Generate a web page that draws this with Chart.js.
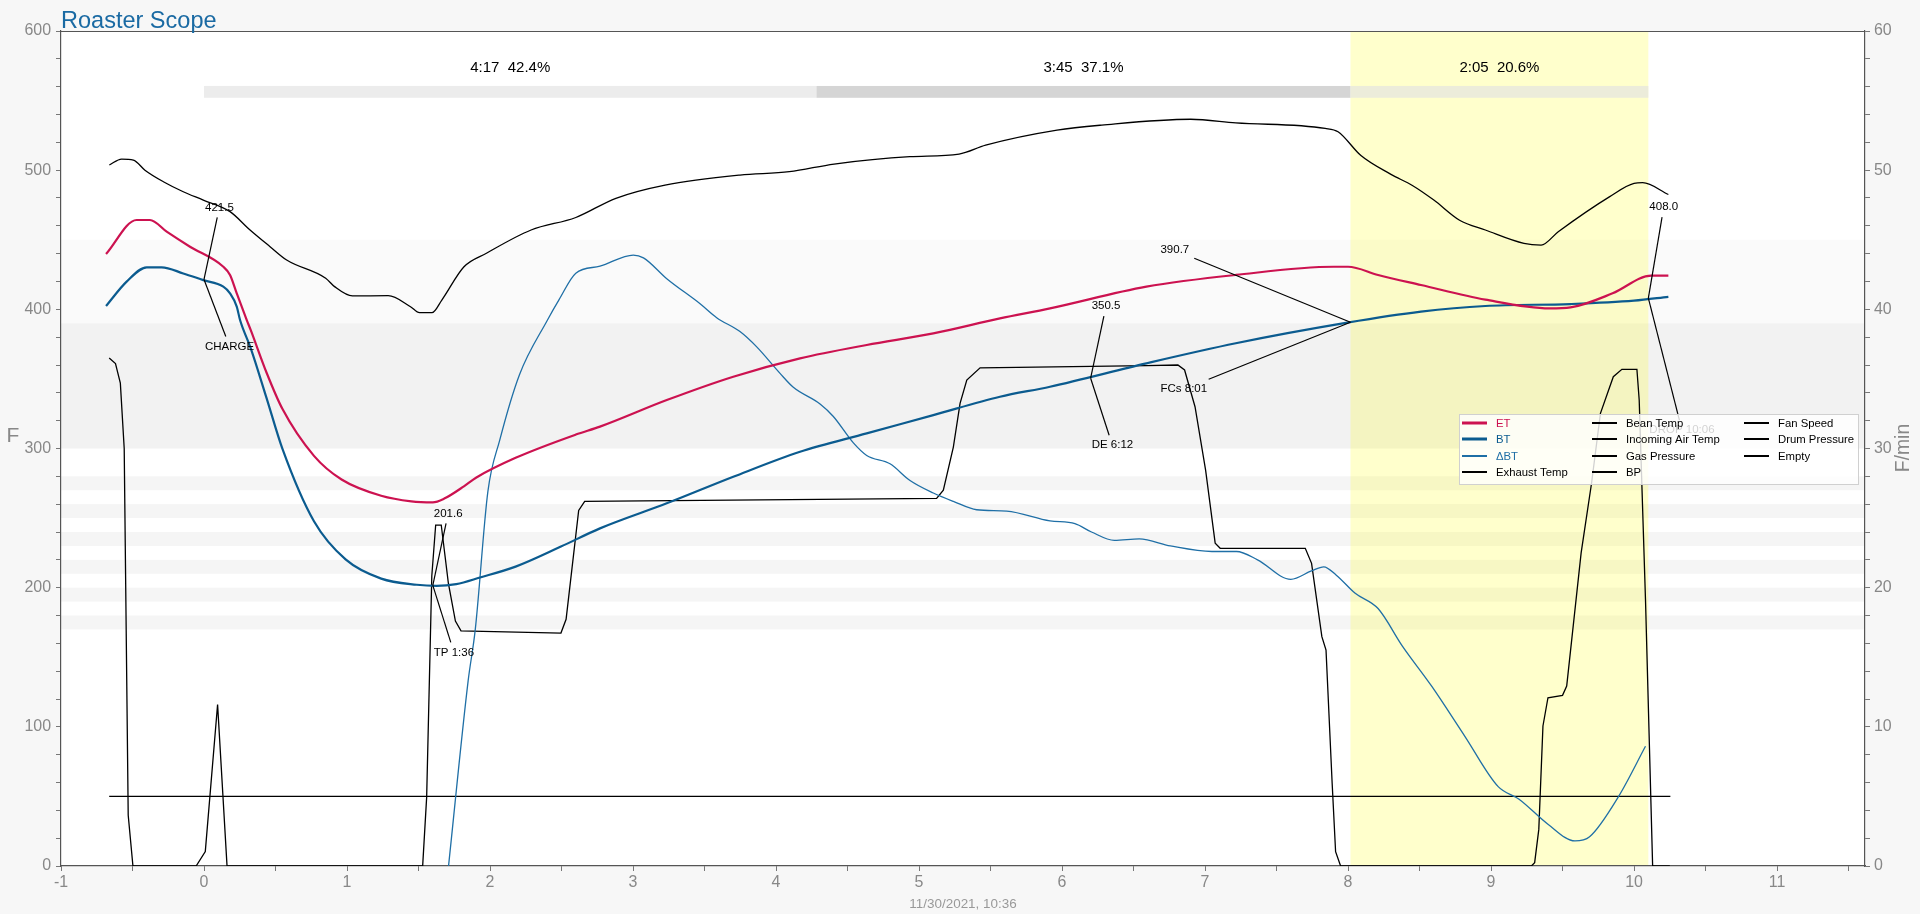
<!DOCTYPE html>
<html>
<head>
<meta charset="utf-8">
<title>Roaster Scope</title>
<script src="https://cdn.jsdelivr.net/npm/chart.js@4.4.0/dist/chart.umd.min.js"></script>
<style>
  html, body { margin: 0; padding: 0; background: #f7f7f7; overflow: hidden; }
  canvas { display: block; }
</style>
</head>
<body>
<canvas id="roast" width="1920" height="914"></canvas>
<script>
/* Roaster Scope profile */

// time (min) / value pairs
const etPts = [
  [-0.685, 439.7], [-0.471, 464.2], [-0.378, 464.2], [-0.261, 455.8], [-0.098, 445],
  [0.135, 430.6], [0.182, 424.7], [0.229, 411.5], [0.299, 392.3], [0.327, 385], [0.437, 354.6],
  [0.548, 328.5], [0.769, 294.7], [0.962, 277.7], [1.239, 266], [1.45, 262], [1.6, 261.3],
  [1.68, 264], [1.82, 273], [1.902, 279], [2.179, 293.3], [2.6, 310], [2.769, 315.7],
  [3.236, 334.8], [3.701, 351.6], [4.168, 364.8], [4.634, 374.4], [5.1, 382.7], [5.566, 393.5],
  [5.916, 400.7], [6.59, 416.3], [7.215, 424.7], [7.9, 430.6], [8.0, 430.6], [8.21, 424.7],
  [8.51, 417.5], [8.96, 407], [9.41, 400.7], [9.556, 401.4], [9.85, 411.5], [10.12, 424.2],
  [10.24, 424.2]
];
const btPts = [
  [-0.685, 402.4], [-0.541, 419.9], [-0.401, 430.2], [-0.296, 430.2], [-0.145, 425.8],
  [-0.005, 421], [0.135, 416.3], [0.182, 411.5], [0.229, 402], [0.252, 392.3], [0.327, 372],
  [0.437, 336.4], [0.548, 299.9], [0.769, 247.7], [0.99, 220.3], [1.239, 206.5], [1.488, 202.1],
  [1.626, 201.3], [1.764, 202.6], [1.93, 207.3], [2.179, 215.1], [2.496, 229.5], [2.769, 242.6],
  [3.236, 260.6], [3.701, 279.7], [4.168, 297.7], [4.634, 310.9], [5.1, 324], [5.566, 337.2],
  [5.916, 344.4], [6.59, 361.2], [7.215, 375.6], [7.995, 390.4], [8.51, 398.3], [8.96, 402.4],
  [9.556, 403.8], [10.0, 406.2], [10.24, 409]
];
// rate of rise, F/min (right axis)
const dbtPts = [
  [1.71, 0], [1.847, 13.3], [1.897, 17], [1.985, 26.9], [2.068, 30.6], [2.206, 35.3],
  [2.4, 39.2], [2.483, 40.7], [2.6, 42.6], [2.769, 43.1], [3.002, 43.9], [3.073, 43.7],
  [3.236, 42.2], [3.469, 40.4], [3.585, 39.4], [3.748, 38.4], [3.865, 37.3], [4.028, 35.4],
  [4.121, 34.4], [4.308, 33.2], [4.401, 32.3], [4.541, 30.4], [4.634, 29.5], [4.797, 28.9],
  [4.937, 27.7], [5.1, 26.8], [5.24, 26.2], [5.403, 25.6], [5.613, 25.5], [5.916, 24.8],
  [6.09, 24.6], [6.206, 24.0], [6.366, 23.4], [6.54, 23.5], [6.758, 23.0], [7.048, 22.6],
  [7.22, 22.6], [7.367, 22.0], [7.6, 20.6], [7.744, 21.2], [7.83, 21.5], [7.918, 20.9],
  [8.05, 19.6], [8.21, 18.5], [8.38, 15.8], [8.586, 12.9], [8.818, 9.3], [9.05, 5.7],
  [9.196, 4.8], [9.398, 3.0], [9.587, 1.8], [9.689, 2.1], [9.892, 5.0], [10.08, 8.6]
];
const exhaustPts = [
  [-0.662, 503.7], [-0.576, 508], [-0.494, 507.3], [-0.413, 500], [-0.284, 491.7],
  [-0.145, 484.5], [-0.005, 478.5], [0.182, 470.2], [0.322, 457], [0.462, 445], [0.578, 435.4],
  [0.851, 422.3], [0.913, 416.3], [1.038, 409.6], [1.288, 409.8], [1.444, 401.9], [1.507, 397.6],
  [1.594, 397.6], [1.663, 406.7], [1.818, 430.6], [1.975, 440.3], [2.287, 457], [2.6, 466],
  [2.88, 479.8], [3.224, 489.3], [3.748, 496.5], [4.093, 498.9], [4.406, 504.4], [4.936, 509.7],
  [5.28, 511.6], [5.466, 518], [5.965, 528.8], [6.278, 532.4], [6.9, 536.6], [7.215, 534],
  [7.84, 530], [7.93, 527.6], [8.09, 510.5], [8.3, 497], [8.45, 489], [8.6, 478.5], [8.78, 464],
  [8.96, 457], [9.23, 447.4], [9.35, 446.2], [9.47, 455.8], [9.83, 481], [10.0, 490.5],
  [10.06, 491], [10.24, 482.5]
];
const fanPts = [
  [-0.663, 365], [-0.619, 361], [-0.585, 347], [-0.558, 300], [-0.53, 36.5], [-0.497, 0],
  [-0.055, 0], [0.009, 10.4], [0.095, 116], [0.161, 0], [1.529, 0], [1.557, 49.5],
  [1.593, 208.6], [1.62, 245], [1.659, 245], [1.709, 203], [1.758, 176], [1.797, 169],
  [2.496, 167.4], [2.532, 177.3], [2.62, 255.5], [2.662, 262], [5.123, 264.2], [5.17, 270],
  [5.24, 301], [5.287, 332.4], [5.334, 349.2], [5.427, 358], [6.59, 359.5], [6.81, 360],
  [6.857, 356.4], [6.93, 330], [7.004, 284.5], [7.059, 241.4], [7.071, 231.9], [7.106, 228.3],
  [7.701, 228.3], [7.745, 217.5], [7.817, 164.8], [7.846, 155.2], [7.889, 59.3], [7.913, 10.3],
  [7.948, 0], [9.282, 0], [9.305, 2.4], [9.334, 26.3], [9.363, 100.6], [9.398, 120.9],
  [9.5, 122.6], [9.529, 129.3], [9.63, 225], [9.703, 275.2], [9.765, 325.3], [9.855, 351.6],
  [9.915, 356.9], [10.02, 356.9], [10.036, 334.8], [10.08, 191.6], [10.13, 0], [10.25, 0]
];
const drumPts = [[-0.663, 50], [10.254, 50]];

// roast events
const eventNames = ['CHARGE', 'TP 1:36', 'DE 6:12', 'FCs 8:01', 'DROP 10:06'];
const eventTimes = [0, 1.6, 6.2, 8.017, 10.1];
const eventTemps = [421.5, 201.6, 350.5, 390.7, 408.0];

// phases
const phaseBounds = [0, 4.283, 8.017, 10.1];
const phaseLabels = ['4:17  42.4%', '3:45  37.1%', '2:05  20.6%'];

// background bands (F)
const bandRanges = [[390, 450], [300, 390], [270, 280], [250, 260], [230, 240], [210, 220], [190, 200], [170, 180]];

const legendCols = [
  ['ET', 'BT', '\u0394BT', 'Exhaust Temp'],
  ['Bean Temp', 'Incoming Air Temp', 'Gas Pressure', 'BP'],
  ['Fan Speed', 'Drum Pressure', 'Empty']
];

// ---- looks ----
const ET_COL = '#cc1250';
const BT_COL = '#0b5b8f';
const DBT_COL = '#1f6fa6';
const bandColors = ['#fafafa', '#f2f2f2', '#f5f5f5', '#f5f5f5', '#f5f5f5', '#f5f5f5', '#f5f5f5', '#f5f5f5'];
const phaseColors = ['rgba(226,226,226,0.65)', '#d5d5d5', 'rgba(226,226,226,0.65)'];
const noteShiftX = [1, 1, 1, -190, 1];
const noteValDy = [-72, -72, -72, -72, -91];
const noteLblDy = [67, 67, 67, 67, 132];

function fontAvailable(name) {
  const c = document.createElement('canvas').getContext('2d');
  c.font = '40px monospace';
  const a = c.measureText('Roaster Scope 0123').width;
  c.font = '40px "' + name + '", monospace';
  const b = c.measureText('Roaster Scope 0123').width;
  return a !== b;
}
const hasNarrow = fontAvailable('Liberation Sans Narrow');
const NARROW = hasNarrow ? '"Liberation Sans Narrow", "Liberation Sans", sans-serif' : '"Liberation Sans", sans-serif';
const NS = hasNarrow ? 1 : 0.84;
const REG = '"Liberation Sans", Arial, sans-serif';

const toXY = (pts) => pts.map(p => ({ x: p[0], y: p[1] }));
const line = (label, pts, color, width, extra) => Object.assign({
  label, data: toXY(pts), borderColor: color, backgroundColor: color,
  borderWidth: width, pointRadius: 0, fill: false, yAxisID: 'y',
  tension: 0.4, cubicInterpolationMode: 'monotone'
}, extra || {});

const datasets = [
  line('ET', etPts, ET_COL, 2.2),
  line('BT', btPts, BT_COL, 2.2),
  line('\u0394BT', dbtPts, DBT_COL, 1.3, { yAxisID: 'y2' }),
  line('Exhaust Temp', exhaustPts, '#000', 1.3),
  line('Bean Temp', [], '#000', 1.3),
  line('Incoming Air Temp', [], '#000', 1.3),
  line('Gas Pressure', [], '#000', 1.3),
  line('BP', [], '#000', 1.3),
  line('Fan Speed', fanPts, '#000', 1.3, { tension: 0, cubicInterpolationMode: 'default' }),
  line('Drum Pressure', drumPts, '#000', 1.3, { tension: 0, cubicInterpolationMode: 'default' }),
  line('Empty', [], '#000', 1.3)
];

function clipToBox(cx, cy, px, py, hw, hh) {
  const dx = px - cx, dy = py - cy;
  const sx = dx !== 0 ? hw / Math.abs(dx) : Infinity;
  const sy = dy !== 0 ? hh / Math.abs(dy) : Infinity;
  const s = Math.min(sx, sy, 1);
  return [cx + dx * s, cy + dy * s];
}

const backdrop = {
  id: 'backdrop',
  beforeDraw(chart) {
    const { ctx, chartArea: ca, scales: { x, y } } = chart;
    ctx.save();
    ctx.fillStyle = '#f7f7f7';
    ctx.fillRect(0, 0, chart.width, chart.height);
    ctx.fillStyle = '#ffffff';
    ctx.fillRect(ca.left, ca.top, ca.width, ca.height);
    bandRanges.forEach((r, i) => {
      const top = y.getPixelForValue(r[1]), bot = y.getPixelForValue(r[0]);
      ctx.fillStyle = bandColors[i];
      ctx.fillRect(ca.left, top, ca.width, bot - top);
    });
    const xa = x.getPixelForValue(eventTimes[3]), xb = x.getPixelForValue(eventTimes[4]);
    ctx.fillStyle = 'rgba(255,255,0,0.2)';
    ctx.fillRect(xa, ca.top, xb - xa, ca.height);
    const yt = y.getPixelForValue(560.5), yb = y.getPixelForValue(552);
    for (let i = 0; i < phaseLabels.length; i++) {
      const x0 = x.getPixelForValue(phaseBounds[i]), x1 = x.getPixelForValue(phaseBounds[i + 1]);
      ctx.fillStyle = phaseColors[i];
      ctx.fillRect(x0, yt, x1 - x0, yb - yt);
    }
    ctx.restore();
  },
  afterDatasetsDraw(chart) {
    const { ctx, chartArea: ca, scales: { x, y } } = chart;
    ctx.save();
    // phase texts
    ctx.fillStyle = '#000';
    ctx.font = '15px ' + REG;
    ctx.textAlign = 'center';
    ctx.textBaseline = 'middle';
    for (let i = 0; i < phaseLabels.length; i++) {
      const xm = x.getPixelForValue((phaseBounds[i] + phaseBounds[i + 1]) / 2);
      ctx.fillText(phaseLabels[i], xm, y.getPixelForValue(573.6));
    }
    // event notes
    ctx.font = '11.5px ' + REG;
    ctx.textAlign = 'left';
    ctx.strokeStyle = '#000';
    ctx.lineWidth = 1.2;
    const note = (txt, left, cy, px, py) => {
      const w = ctx.measureText(txt).width;
      const [ex, ey] = clipToBox(left + w / 2, cy, px, py, w / 2 + 5, 10);
      ctx.beginPath();
      ctx.moveTo(ex, ey);
      ctx.lineTo(px, py);
      ctx.stroke();
      ctx.fillText(txt, left, cy);
    };
    eventNames.forEach((name, i) => {
      const px = x.getPixelForValue(eventTimes[i]);
      const py = y.getPixelForValue(eventTemps[i]);
      const left = px + noteShiftX[i];
      note(eventTemps[i].toFixed(1), left, py + noteValDy[i], px, py);
      note(name, left, py + noteLblDy[i], px, py);
    });
    // top border
    ctx.strokeStyle = '#555';
    ctx.lineWidth = 1;
    ctx.beginPath();
    ctx.moveTo(ca.left, ca.top + 0.5);
    ctx.lineTo(ca.right, ca.top + 0.5);
    ctx.stroke();
    // legend
    const lx = 1459, ly = 414, lw = 399, lh = 70;
    ctx.fillStyle = 'rgba(255,255,255,0.82)';
    ctx.fillRect(lx, ly, lw, lh);
    ctx.strokeStyle = '#d0d0d0';
    ctx.strokeRect(lx + 0.5, ly + 0.5, lw, lh);
    const colX = [1462, 1592, 1744];
    const rowY = [423, 439, 456, 472];
    ctx.font = (13.5 * NS) + 'px ' + NARROW;
    ctx.textBaseline = 'middle';
    legendCols.forEach((col, c) => {
      col.forEach((name, r) => {
        const ds = chart.data.datasets.find(d => d.label === name);
        const yy = rowY[r];
        ctx.strokeStyle = ds.borderColor;
        ctx.lineWidth = (name === 'ET' || name === 'BT') ? 3 : 2;
        ctx.beginPath();
        ctx.moveTo(colX[c], yy);
        ctx.lineTo(colX[c] + 25, yy);
        ctx.stroke();
        ctx.fillStyle = ds.borderColor;
        ctx.fillText(name, colX[c] + 34, yy + 1);
      });
    });
    // title and axis names
    ctx.fillStyle = '#1a6aa3';
    ctx.font = (28 * NS) + 'px ' + NARROW;
    ctx.textBaseline = 'alphabetic';
    ctx.fillText('Roaster Scope', 61, 28);
    ctx.fillStyle = '#888';
    ctx.font = (25 * NS) + 'px ' + NARROW;
    ctx.textAlign = 'center';
    ctx.textBaseline = 'middle';
    ctx.fillText('F', 13, 436);
    ctx.translate(1904, 448);
    ctx.rotate(-Math.PI / 2);
    ctx.font = (23 * NS) + 'px ' + NARROW;
    ctx.fillText('F/min', 0, 0);
    ctx.restore();
  }
};

const tickFont = { family: NARROW, size: 19 * NS };
const near = (v, m) => Math.abs(v / m - Math.round(v / m)) < 1e-6;

const config = {
  type: 'line',
  data: { datasets },
  options: {
    responsive: false,
    animation: false,
    devicePixelRatio: 1,
    layout: { padding: { top: 31, left: 0, right: 0, bottom: 0 } },
    plugins: { legend: { display: false }, tooltip: { enabled: false } },
    scales: {
      x: {
        type: 'linear', min: -1, max: 11.615,
        afterFit: (s) => { s.height = 48; },
        grid: { drawOnChartArea: false, tickLength: 5, color: '#777' },
        border: { color: '#555', width: 1.2 },
        ticks: {
          stepSize: 0.5, autoSkip: false, includeBounds: false, maxRotation: 0,
          color: '#888', font: tickFont, padding: 2,
          callback: (v) => near(v, 1) ? Math.round(v) : ''
        },
        title: {
          display: true, text: '11/30/2021, 10:36', color: '#999',
          font: { family: NARROW, size: 16 * NS }, padding: { top: 0, bottom: 2 }
        }
      },
      y: {
        position: 'left', min: 0, max: 600,
        afterFit: (s) => { s.width = 61; },
        grid: { drawOnChartArea: false, tickLength: 5, color: '#777' },
        border: { color: '#555', width: 1.2 },
        ticks: {
          stepSize: 20, autoSkip: false, color: '#888', font: tickFont, padding: 5,
          callback: (v) => near(v, 100) ? v : ''
        }
      },
      y2: {
        position: 'right', min: 0, max: 60,
        afterFit: (s) => { s.width = 55; },
        grid: { drawOnChartArea: false, tickLength: 5, color: '#777' },
        border: { color: '#555', width: 1.2 },
        ticks: {
          stepSize: 2, autoSkip: false, color: '#888', font: tickFont, padding: 4,
          callback: (v) => near(v, 10) ? v : ''
        }
      }
    }
  },
  plugins: [backdrop]
};

window.onload = function () {
  const ctx = document.getElementById('roast').getContext('2d');
  window.roastChart = new Chart(ctx, config);
};
</script>
</body>
</html>
